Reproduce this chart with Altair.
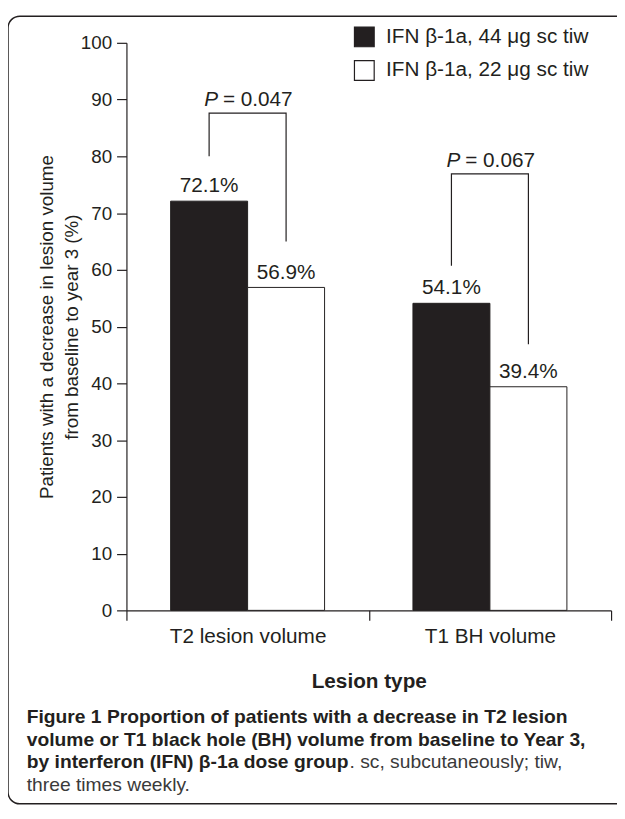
import altair as alt
import pandas as pd

# ---------------- data ----------------
lesion_types = ["T2 lesion volume", "T1 BH volume"]
dose_groups = ["IFN β-1a, 44 μg sc tiw", "IFN β-1a, 22 μg sc tiw"]
pct_44 = [72.1, 54.1]
pct_22 = [56.9, 39.4]
p_values = ["0.047", "0.067"]
bracket_top = [87.6, 76.9]
bracket_leg_44 = [80.0, 60.7]
bracket_leg_22 = [65.0, 46.9]
y_ticks = [0, 10, 20, 30, 40, 50, 60, 70, 80, 90, 100]
y_title = ["Patients with a decrease in lesion volume", "from baseline to year 3 (%)"]
x_title = "Lesion type"
caption_bold = [
    "Figure 1 Proportion of patients with a decrease in T2 lesion",
    "volume or T1 black hole (BH) volume from baseline to Year 3,",
    "by interferon (IFN) β-1a dose group",
]
caption_tail = ". sc, subcutaneously; tiw,"
caption_last = "three times weekly."

INK = "#231f20"
FONT = "Liberation Sans"
CAP_FONT = "Liberation Sans"

bars_df = pd.DataFrame({
    "lesion": lesion_types + lesion_types,
    "dose": [dose_groups[0]] * 2 + [dose_groups[1]] * 2,
    "value": pct_44 + pct_22,
})
bars_df["label"] = [f"{v:.1f}%" for v in bars_df["value"]]

br_rows = []
for i, les in enumerate(lesion_types):
    br_rows += [
        {"lesion": les, "dose": dose_groups[0], "value": bracket_leg_44[i], "ord": 0},
        {"lesion": les, "dose": dose_groups[0], "value": bracket_top[i], "ord": 1},
        {"lesion": les, "dose": dose_groups[1], "value": bracket_top[i], "ord": 2},
        {"lesion": les, "dose": dose_groups[1], "value": bracket_leg_22[i], "ord": 3},
    ]
br_df = pd.DataFrame(br_rows)
p_df = pd.DataFrame({"lesion": lesion_types, "value": bracket_top,
                     "rest": ["= " + p for p in p_values]})

# ---------------- encodings ----------------
x_enc = alt.X(
    "lesion:N", sort=lesion_types,
    scale=alt.Scale(paddingInner=0, paddingOuter=0),
    axis=alt.Axis(
        tickBand="extent", tickSize=10, labelAngle=0, labelFontSize=21,
        labelPadding=6, title=x_title, titleFontSize=21, titleFontWeight="bold",
        titleX=245.5, titleY=78, titleBaseline="alphabetic", titleAlign="center",
    ),
)
xoff_enc = alt.XOffset("dose:N", sort=dose_groups,
                       scale=alt.Scale(paddingInner=0, paddingOuter=0.574))
y_enc = alt.Y(
    "value:Q", scale=alt.Scale(domain=[0, 100], nice=False),
    axis=alt.Axis(
        values=y_ticks, tickSize=10, labelFontSize=19, labelPadding=5,
        title=y_title, titleFontSize=19, titleFontWeight="normal",
        titleLineHeight=25, titleX=-81, titleY=287.5, titleAngle=270,
        titleAlign="center", titleBaseline="middle",
    ),
)

# ---------------- layers ----------------
frame = alt.Chart(alt.Data(values=[{}])).mark_rect(
    fill="white", fillOpacity=0, stroke=INK, strokeWidth=1.5, cornerRadius=12
).encode(x=alt.value(-120), x2=alt.value(1000), y=alt.value(-27), y2=alt.value(771))

bars = alt.Chart(bars_df).mark_bar(stroke=INK, strokeWidth=1).encode(
    x=x_enc, xOffset=xoff_enc, y=y_enc,
    color=alt.Color(
        "dose:N", sort=dose_groups,
        scale=alt.Scale(domain=dose_groups, range=[INK, "white"]),
        legend=alt.Legend(
            orient="none", legendX=230, legendY=-17, title=None,
            symbolType="square", symbolSize=400, symbolStrokeColor=INK,
            symbolStrokeWidth=1.2, labelFontSize=21, labelFont=FONT,
            labelColor=INK, rowPadding=8, labelOffset=11, padding=0,
            labelLimit=0,
        ),
    ),
)

bar_labels = alt.Chart(bars_df).mark_text(
    dy=-9, baseline="alphabetic", fontSize=21, font=FONT, color=INK
).encode(x=x_enc, xOffset=xoff_enc, y=y_enc, text="label:N")

brackets = alt.Chart(br_df).mark_line(color=INK, strokeWidth=1.2).encode(
    x=x_enc, xOffset=xoff_enc, y=y_enc, detail="lesion:N", order="ord:Q"
)

p_italic = alt.Chart(p_df).mark_text(
    text="P", fontStyle="italic", align="right", dx=-30, dy=-7,
    baseline="alphabetic", fontSize=21, font=FONT, color=INK
).encode(x=x_enc, y=y_enc)

p_rest = alt.Chart(p_df).mark_text(
    align="left", dx=-25, dy=-7, baseline="alphabetic", fontSize=21,
    font=FONT, color=INK
).encode(x=x_enc, y=y_enc, text="rest:N")

cap_bold = alt.Chart(alt.Data(values=[{}])).mark_text(
    text=caption_bold, align="left", baseline="alphabetic", fontSize=19.5,
    lineHeight=23, fontWeight="bold", font=CAP_FONT, color=INK
).encode(x=alt.value(-101), y=alt.value(689))

cap_tail = alt.Chart(alt.Data(values=[{}])).mark_text(
    text=caption_tail, align="left", baseline="alphabetic", fontSize=19.5,
    font=CAP_FONT, color="#3a3a3a"
).encode(x=alt.value(226), y=alt.value(735))

cap_last = alt.Chart(alt.Data(values=[{}])).mark_text(
    text=caption_last, align="left", baseline="alphabetic", fontSize=19.5,
    font=CAP_FONT, color="#3a3a3a"
).encode(x=alt.value(-101), y=alt.value(758))

chart = alt.layer(frame, bars, bar_labels, brackets, p_italic, p_rest,
                  cap_bold, cap_tail, cap_last).properties(
    width=491, height=575,
    padding={"left": 120, "top": 30, "right": 6, "bottom": 199},
    autosize=alt.AutoSizeParams(type="none"),
).configure_view(stroke=None).configure_axis(
    grid=False, domainColor=INK, tickColor=INK, labelColor=INK, titleColor=INK,
    labelFont=FONT, titleFont=FONT, domainWidth=1.2, tickWidth=1.2,
)

chart.save("out.html", embed_options={"renderer": "svg", "actions": False})
